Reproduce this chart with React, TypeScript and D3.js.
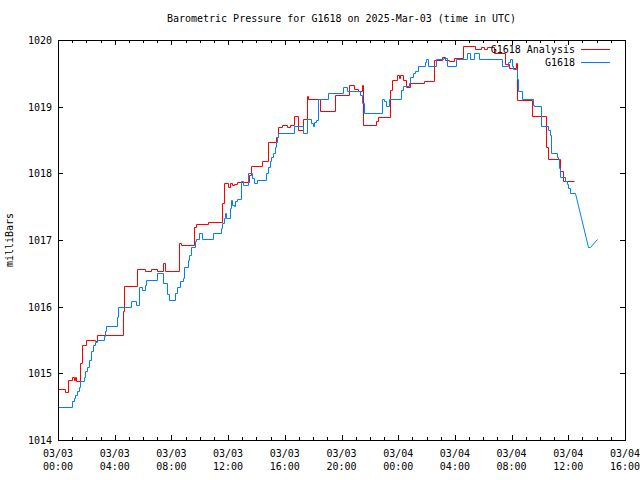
import React from "react";
import * as d3 from "d3";

const TITLE = "Barometric Pressure for G1618 on 2025-Mar-03 (time in UTC)";
const Y_LABEL = "milliBars";
const SERIES_NAMES = ["G1618 Analysis", "G1618"];
const SERIES_COLORS = ["#ff0000", "#0080ff"];

const Y_TICKS = [1014, 1015, 1016, 1017, 1018, 1019, 1020];
const X_MAJOR_HOURS = [0, 4, 8, 12, 16, 20, 24, 28, 32, 36, 40];
const X_TICK_DATES = ["03/03", "03/03", "03/03", "03/03", "03/03", "03/03", "03/04", "03/04", "03/04", "03/04", "03/04"];
const X_TICK_TIMES = ["00:00", "04:00", "08:00", "12:00", "16:00", "20:00", "00:00", "04:00", "08:00", "12:00", "16:00"];

// Hours since 2025-03-03 00:00 UTC
const analysisHours = [
  0.0, 0.5, 0.69, 0.99, 1.11, 1.18, 1.27, 1.58, 1.68, 2.0, 2.64, 2.76, 4.58, 4.65, 5.59, 6.11, 6.53, 7.01, 7.43, 7.53,
  8.57, 8.69, 9.58, 9.77, 10.6, 11.54, 11.68, 11.96, 12.11, 12.25, 12.39, 12.62, 13.47, 13.64, 14.42, 14.82, 15.41, 15.53,
  15.79, 16.14, 16.35, 16.64, 16.94, 17.3, 17.54, 17.61, 18.48, 19.54, 20.55, 20.88, 21.16, 21.43, 21.54, 22.44, 22.58,
  23.43, 23.55, 23.93, 24.05, 24.14, 24.35, 24.53, 24.85, 25.84, 26.55, 27.12, 27.29, 27.61, 27.96, 28.55, 29.45, 29.81,
  30.04, 30.28, 30.73, 31.5, 31.79, 32.32, 32.37, 33.47, 34.41, 34.57, 35.42, 35.66, 36.41,
];
const analysisValues = [
  1014.76, 1014.72, 1014.9, 1014.95, 1014.9, 1014.95, 1014.89, 1015.16, 1015.43, 1015.5, 1015.48, 1015.58, 1015.94, 1016.31,
  1016.56, 1016.54, 1016.57, 1016.53, 1016.66, 1016.53, 1016.95, 1016.93, 1017.19, 1017.24, 1017.27, 1017.55, 1017.86,
  1017.8, 1017.86, 1017.82, 1017.84, 1017.87, 1017.97, 1018.11, 1018.19, 1018.47, 1018.55, 1018.69, 1018.73, 1018.7,
  1018.72, 1018.86, 1018.65, 1018.81, 1019.16, 1019.12, 1018.94, 1019.18, 1019.33, 1019.27, 1019.24, 1019.33, 1018.72,
  1018.78, 1018.84, 1019.25, 1019.4, 1019.47, 1019.43, 1019.47, 1019.4, 1019.29, 1019.35, 1019.39, 1019.7, 1019.75,
  1019.7, 1019.68, 1019.73, 1019.91, 1019.86, 1019.89, 1019.86, 1019.9, 1019.8, 1019.64, 1019.58, 1019.65, 1019.1,
  1018.86, 1018.4, 1018.22, 1018.03, 1017.88, 1017.88,
];

const obsHours = [
  0.0, 0.99, 1.11, 1.22, 1.35, 1.47, 1.58, 1.82, 1.93, 2.05, 2.17, 2.36, 2.46, 2.64, 2.76, 3.24, 3.35, 3.42, 4.18, 4.23,
  5.17, 5.47, 5.71, 5.95, 6.11, 6.18, 6.96, 7.43, 7.67, 7.82, 8.28, 8.42, 8.64, 8.85, 8.92, 9.15, 9.27, 9.39, 9.63, 9.75,
  9.93, 10.17, 10.97, 11.47, 11.59, 11.7, 11.8, 11.87, 12.11, 12.18, 12.27, 12.39, 12.51, 12.62, 12.88, 13.05, 13.4,
  13.71, 13.83, 14.07, 14.65, 14.78, 14.94, 15.06, 15.17, 15.29, 15.36, 15.45, 15.53, 16.64, 17.3, 17.58, 17.82, 17.96,
  18.07, 18.17, 18.36, 19.07, 20.13, 20.37, 21.31, 21.43, 21.59, 22.85, 23.01, 23.15, 23.38, 24.19, 24.37, 24.73, 24.85,
  25.04, 25.2, 25.37, 25.86, 25.98, 26.07, 26.67, 27.16, 27.45, 28.11, 28.86, 29.1, 29.33, 29.69, 31.29, 31.74, 31.86,
  32.05, 32.12, 32.35, 32.45, 32.76, 33.51, 33.58, 34.1, 34.57, 34.71, 34.81, 35.19, 35.24, 35.35, 35.42, 35.75, 35.89,
  35.99, 36.13, 36.45,
];
const obsValues = [
  1014.49, 1014.59, 1014.63, 1014.68, 1014.73, 1014.79, 1014.89, 1014.95, 1015.03, 1015.1, 1015.2, 1015.33, 1015.42,
  1015.47, 1015.5, 1015.56, 1015.64, 1015.71, 1015.85, 1016.0, 1016.09, 1016.02, 1016.3, 1016.25, 1016.33, 1016.4,
  1016.5, 1016.35, 1016.19, 1016.1, 1016.2, 1016.3, 1016.38, 1016.43, 1016.6, 1016.7, 1016.78, 1016.9, 1016.98, 1017.02,
  1017.1, 1017.02, 1017.1, 1017.18, 1017.25, 1017.33, 1017.4, 1017.33, 1017.48, 1017.6, 1017.53, 1017.51, 1017.58,
  1017.61, 1017.88, 1017.83, 1018.0, 1017.93, 1017.85, 1017.9, 1018.01, 1018.1, 1018.18, 1018.25, 1018.3, 1018.39,
  1018.47, 1018.55, 1018.61, 1018.71, 1018.6, 1018.81, 1018.75, 1018.71, 1018.77, 1018.8, 1019.11, 1019.21, 1019.3,
  1019.23, 1019.18, 1019.05, 1018.91, 1019.11, 1019.08, 1019.01, 1019.11, 1019.25, 1019.31, 1019.36, 1019.45, 1019.5,
  1019.54, 1019.61, 1019.67, 1019.71, 1019.61, 1019.71, 1019.73, 1019.61, 1019.71, 1019.81, 1019.71, 1019.81, 1019.71,
  1019.61, 1019.67, 1019.71, 1019.61, 1019.56, 1019.41, 1019.23, 1019.11, 1019.03, 1019.01, 1018.71, 1018.65, 1018.58,
  1018.31, 1018.25, 1018.21, 1018.08, 1017.95, 1017.89, 1017.84, 1017.78, 1017.7, 1017.7,
];
// final readings, drawn point to point
const obsTailHours = [36.45, 37.36, 37.5, 38.0];
const obsTailValues = [1017.7, 1016.9, 1016.9, 1017.02];

const W = 640;
const H = 480;
const M = { left: 58, right: 15, top: 40, bottom: 40 };
const FONT = "'DejaVu Sans Mono', 'Liberation Mono', monospace";

export default function App() {
  const x = d3.scaleLinear().domain([0, 40]).range([M.left, W - M.right]);
  const y = d3.scaleLinear().domain([1014, 1020]).range([H - M.bottom, M.top]);
  const x0 = M.left, x1 = W - M.right, y0 = H - M.bottom, y1 = M.top;
  const r = (v: number) => Math.round(v) + 0.5;

  const stepLine = d3
    .line<[number, number]>()
    .x((d) => r(x(d[0])))
    .y((d) => r(y(d[1])))
    .curve(d3.curveStepAfter);
  const linLine = d3
    .line<[number, number]>()
    .x((d) => r(x(d[0])))
    .y((d) => r(y(d[1])));

  const analysis = analysisHours.map((h, i) => [h, analysisValues[i]] as [number, number]);
  const obs = obsHours.map((h, i) => [h, obsValues[i]] as [number, number]);
  const tail = obsTailHours.map((h, i) => [h, obsTailValues[i]] as [number, number]);

  const minorHours = d3.range(0, 41, 1);

  return (
    <svg width={W} height={H} style={{ position: "absolute", left: 0, top: 0, background: "#fff" }} fontFamily={FONT}>
      <rect x={0} y={0} width={W} height={H} fill="#fff" />
      <text x={(x0 + x1) / 2} y={22} fontSize={10} textAnchor="middle" fill="#000">
        {TITLE}
      </text>
      <text transform={`translate(13,${(y0 + y1) / 2}) rotate(-90)`} fontSize={10} textAnchor="middle" fill="#000">
        {Y_LABEL}
      </text>

      {/* ticks */}
      <g stroke="#000" strokeWidth={1}>
        {minorHours.map((h) => {
          const major = h % 4 === 0;
          const len = major ? 5 : 3;
          const px = r(x(h));
          return (
            <g key={"xt" + h}>
              <line x1={px} x2={px} y1={y0} y2={y0 - len} />
              <line x1={px} x2={px} y1={y1} y2={y1 + len} />
            </g>
          );
        })}
        {Y_TICKS.map((v) => {
          const py = r(y(v));
          return (
            <g key={"yt" + v}>
              <line x1={x0} x2={x0 + 5} y1={py} y2={py} />
              <line x1={x1} x2={x1 - 5} y1={py} y2={py} />
            </g>
          );
        })}
      </g>

      {/* tick labels */}
      {Y_TICKS.map((v) => (
        <text key={"yl" + v} x={52} y={y(v) + 4} fontSize={10} textAnchor="end" fill="#000">
          {v}
        </text>
      ))}
      {X_MAJOR_HOURS.map((h, i) => (
        <g key={"xl" + h}>
          <text x={x(h)} y={457} fontSize={10} textAnchor="middle" fill="#000">
            {X_TICK_DATES[i]}
          </text>
          <text x={x(h)} y={470} fontSize={10} textAnchor="middle" fill="#000">
            {X_TICK_TIMES[i]}
          </text>
        </g>
      ))}

      {/* data */}
      <path d={stepLine(analysis) || ""} fill="none" stroke={SERIES_COLORS[0]} strokeWidth={1} />
      <path d={stepLine(obs) || ""} fill="none" stroke={SERIES_COLORS[1]} strokeWidth={1} />
      <path d={linLine(tail) || ""} fill="none" stroke={SERIES_COLORS[1]} strokeWidth={1} />

      {/* legend */}
      {SERIES_NAMES.map((name, i) => (
        <g key={"lg" + i}>
          <text x={575} y={53 + i * 13} fontSize={10} textAnchor="end" fill="#000">
            {name}
          </text>
          <line x1={581} x2={610} y1={49.5 + i * 13} y2={49.5 + i * 13} stroke={SERIES_COLORS[i]} strokeWidth={1} />
        </g>
      ))}

      {/* border */}
      <rect x={x0 + 0.5} y={y1 + 0.5} width={x1 - x0} height={y0 - y1} fill="none" stroke="#000" strokeWidth={1} />
    </svg>
  );
}
